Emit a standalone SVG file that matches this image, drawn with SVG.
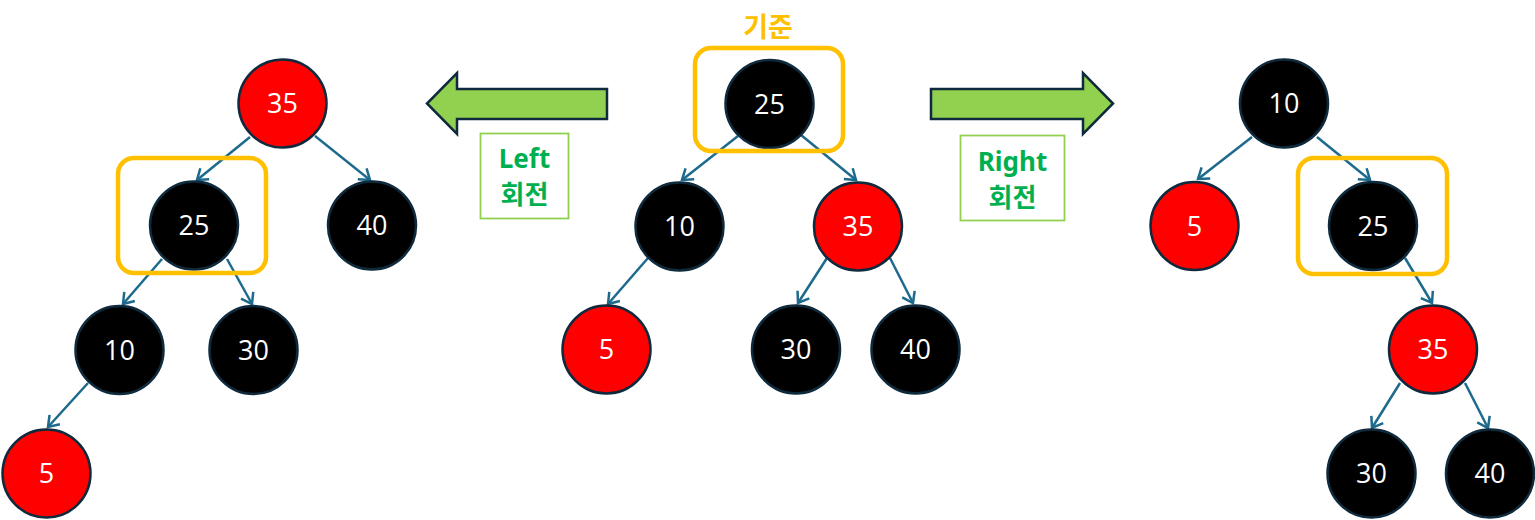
<svg xmlns="http://www.w3.org/2000/svg" width="1535" height="520" viewBox="0 0 1535 520">
<style>
.b{fill:#000000;stroke:#0E2A3C;stroke-width:2.5}
.r{fill:#FF0000;stroke:#0E2A3C;stroke-width:2.5}
.t{fill:#FFFFFF;font-family:"Open Sans","Noto Sans","Liberation Sans",sans-serif;font-size:27px;text-anchor:middle}
.sel{fill:none;stroke:#FFC000;stroke-width:4.5}
.e{fill:none;stroke:#1D6A8C;stroke-width:2.5;marker-end:url(#ah)}
.bigarrow{fill:#92D050;stroke:#0E2A3C;stroke-width:2.5;stroke-linejoin:miter}
.lbox{fill:#FFFFFF;stroke:#92D050;stroke-width:1.8}
.lt{fill:#00B050;font-family:"Noto Sans","Noto Sans CJK KR",sans-serif;font-weight:bold;font-size:26px;text-anchor:middle}
.kj{fill:#FFC000;font-family:"Noto Sans CJK KR","Noto Sans",sans-serif;font-weight:bold;font-size:27px;text-anchor:middle}
</style>
<defs>
<marker id="ah" markerUnits="userSpaceOnUse" markerWidth="24" markerHeight="24" viewBox="-12 -12 24 24" refX="0" refY="0" orient="auto">
<path d="M-10,-7 L0,0 L-10,7" fill="none" stroke="#1D6A8C" stroke-width="2.5"/>
</marker>
</defs>
<rect width="1535" height="520" fill="#FFFFFF"/>

<g id="connectors">
<line class="e" x1="250" y1="137" x2="197" y2="180"/>
<line class="e" x1="315" y1="136" x2="370" y2="180"/>
<line class="e" x1="162" y1="259" x2="123" y2="304"/>
<line class="e" x1="227" y1="259" x2="252" y2="304"/>
<line class="e" x1="88" y1="383" x2="48" y2="427"/>
<line class="e" x1="738" y1="136" x2="682" y2="180"/>
<line class="e" x1="801" y1="135" x2="856" y2="180"/>
<line class="e" x1="648" y1="258" x2="608" y2="304"/>
<line class="e" x1="827" y1="258" x2="798" y2="303"/>
<line class="e" x1="890" y1="258" x2="913" y2="303"/>
<line class="e" x1="1252" y1="137" x2="1198" y2="179"/>
<line class="e" x1="1317" y1="137" x2="1370" y2="180"/>
<line class="e" x1="1405" y1="258" x2="1432" y2="303"/>
<line class="e" x1="1400" y1="383" x2="1372" y2="428"/>
<line class="e" x1="1465" y1="383" x2="1488" y2="428"/>
</g>

<g id="L35"><circle class="r" cx="282.5" cy="103.5" r="44"/><text class="t" x="282.5" y="113">35</text></g>
<g id="L25"><circle class="b" cx="194" cy="225.5" r="44"/><text class="t" x="194" y="235">25</text></g>
<g id="L40"><circle class="b" cx="372" cy="225.5" r="44"/><text class="t" x="372" y="235">40</text></g>
<g id="L10"><circle class="b" cx="119.5" cy="350" r="44"/><text class="t" x="119.5" y="359.5">10</text></g>
<g id="L30"><circle class="b" cx="253.5" cy="350" r="44"/><text class="t" x="253.5" y="359.5">30</text></g>
<g id="L5"><circle class="r" cx="46.5" cy="473.5" r="44"/><text class="t" x="46.5" y="483">5</text></g>
<g id="Lsel"><rect class="sel" x="118" y="158" width="148" height="115" rx="16"/></g>

<g id="C25"><circle class="b" cx="769.5" cy="104" r="44"/><text class="t" x="769.5" y="113.5">25</text></g>
<g id="C10"><circle class="b" cx="679.5" cy="226.5" r="44"/><text class="t" x="679.5" y="236">10</text></g>
<g id="C35"><circle class="r" cx="858" cy="226.5" r="44"/><text class="t" x="858" y="236">35</text></g>
<g id="C5"><circle class="r" cx="606.5" cy="349.5" r="44"/><text class="t" x="606.5" y="359">5</text></g>
<g id="C30"><circle class="b" cx="796" cy="349.5" r="44"/><text class="t" x="796" y="359">30</text></g>
<g id="C40"><circle class="b" cx="915.5" cy="349.5" r="44"/><text class="t" x="915.5" y="359">40</text></g>
<g id="Csel"><rect class="sel" x="695" y="48" width="148" height="103" rx="16"/><text class="kj" x="768" y="37">기준</text></g>

<g id="R10"><circle class="b" cx="1284" cy="103.5" r="44"/><text class="t" x="1284" y="113">10</text></g>
<g id="R5"><circle class="r" cx="1194.5" cy="226" r="44"/><text class="t" x="1194.5" y="235.5">5</text></g>
<g id="R25"><circle class="b" cx="1373" cy="226" r="44"/><text class="t" x="1373" y="235.5">25</text></g>
<g id="R35"><circle class="r" cx="1433" cy="349.5" r="44"/><text class="t" x="1433" y="359">35</text></g>
<g id="R30"><circle class="b" cx="1371.5" cy="473.5" r="44"/><text class="t" x="1371.5" y="483">30</text></g>
<g id="R40"><circle class="b" cx="1490" cy="473.5" r="44"/><text class="t" x="1490" y="483">40</text></g>
<g id="Rsel"><rect class="sel" x="1298" y="158" width="149" height="116" rx="16"/></g>

<g id="leftArrow"><polygon class="bigarrow" points="607,89 457,89 457,73 427,103.5 457,134 457,119 607,119"/></g>
<g id="leftLabel"><rect class="lbox" x="480.5" y="133.5" width="88" height="85"/><text class="lt" x="524.5" y="168">Left</text><text class="lt" x="524.5" y="204">회전</text></g>
<g id="rightArrow"><polygon class="bigarrow" points="931,89 1083,89 1083,73 1113,103.5 1083,134 1083,119 931,119"/></g>
<g id="rightLabel"><rect class="lbox" x="960.5" y="135.5" width="104" height="85"/><text class="lt" x="1012.5" y="171">Right</text><text class="lt" x="1012.5" y="207">회전</text></g>
</svg>
